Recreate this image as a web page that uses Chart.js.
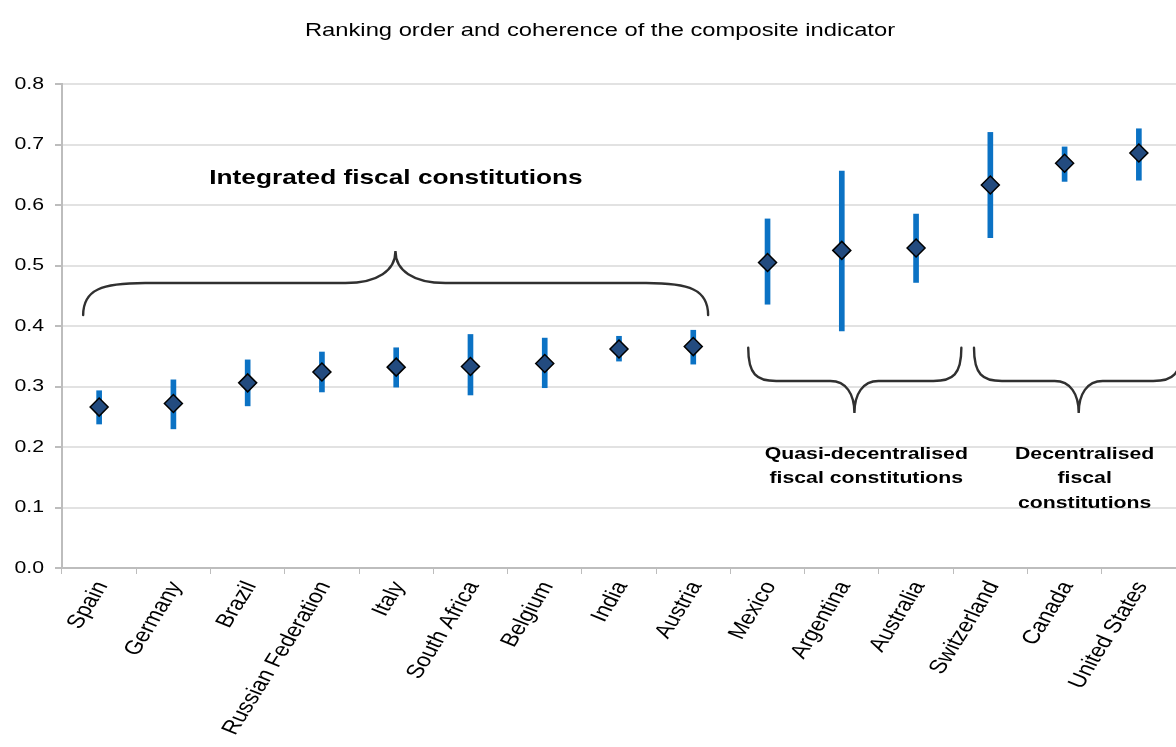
<!DOCTYPE html>
<html>
<head>
<meta charset="utf-8">
<script src="https://cdn.jsdelivr.net/npm/chart.js@4/dist/chart.umd.min.js"></script>
<style>
  html, body { margin: 0; padding: 0; background: #fff; }
  canvas { display: block; }
</style>
</head>
<body>
<canvas id="rankChart" width="1176" height="747"></canvas>
<script>
// data
const countries = ['Spain', 'Germany', 'Brazil', 'Russian Federation', 'Italy', 'South Africa',
    'Belgium', 'India', 'Austria', 'Mexico', 'Argentina', 'Australia', 'Switzerland', 'Canada', 'United States'];
const scores = [0.266, 0.272, 0.306, 0.324, 0.332, 0.333, 0.338, 0.362, 0.366, 0.505, 0.525, 0.529, 0.633, 0.669, 0.686];
const lowBounds = [0.238, 0.230, 0.268, 0.291, 0.299, 0.286, 0.298, 0.342, 0.337, 0.436, 0.392, 0.472, 0.546, 0.639, 0.641];
const highBounds = [0.293, 0.311, 0.344, 0.357, 0.364, 0.386, 0.380, 0.383, 0.393, 0.577, 0.656, 0.585, 0.720, 0.696, 0.726];
const yTicks = [0, 0.1, 0.2, 0.3, 0.4, 0.5, 0.6, 0.7, 0.8];

const chartTitle = 'Ranking order and coherence of the composite indicator';

// group annotations (x in category units, y in value units)
const braces = [
    { x1: -0.215, x2: 8.20, xt: 3.99, yEnd: 0.418, yMid: 0.471, yTip: 0.524, rEnd: 62, rTip: 50 },
    { x1: 8.74, x2: 11.61, xt: 10.17, yEnd: 0.364, yMid: 0.309, yTip: 0.256, rEnd: 28, rTip: 24 },
    { x1: 11.78, x2: 14.57, xt: 13.19, yEnd: 0.364, yMid: 0.309, yTip: 0.256, rEnd: 28, rTip: 24 }
];
const groupLabels = [
    { x: 3.997, y: [0.645], lines: ['Integrated fiscal constitutions'], size: 21 },
    { x: 10.33, y: [0.188, 0.149], lines: ['Quasi-decentralised', 'fiscal constitutions'], size: 17 },
    { x: 13.27, y: [0.188, 0.149, 0.107], lines: ['Decentralised', 'fiscal', 'constitutions'], size: 17 }
];

const FONT = '"Liberation Sans", Arial, sans-serif';
const STRETCH = 1.25;   // the original text is drawn a bit wide
const LABEL_ANGLE = -63 * Math.PI / 180;

// text helper: draws text widened horizontally, optionally rotated
function wideText(ctx, text, x, y, font, align, baseline, angle) {
    ctx.save();
    ctx.translate(x, y);
    ctx.scale(STRETCH, 1);
    if (angle) ctx.rotate(angle);
    ctx.font = font;
    ctx.textAlign = align;
    ctx.textBaseline = baseline;
    ctx.fillText(text, 0, 0);
    ctx.restore();
}

function drawBrace(ctx, xs, ys, b) {
    const x1 = xs.getPixelForValue(b.x1);
    const x2 = xs.getPixelForValue(b.x2);
    const xt = xs.getPixelForValue(b.xt);
    const yE = ys.getPixelForValue(b.yEnd);
    const yM = ys.getPixelForValue(b.yMid);
    const yT = ys.getPixelForValue(b.yTip);

    ctx.beginPath();
    ctx.moveTo(x1, yE);
    ctx.bezierCurveTo(x1, yM + (yE - yM) * 0.2, x1 + b.rEnd * 0.3, yM, x1 + b.rEnd, yM);
    ctx.lineTo(xt - b.rTip, yM);
    ctx.bezierCurveTo(xt - b.rTip * 0.35, yM, xt, yM + (yT - yM) * 0.4, xt, yT);
    ctx.bezierCurveTo(xt, yM + (yT - yM) * 0.4, xt + b.rTip * 0.35, yM, xt + b.rTip, yM);
    ctx.lineTo(x2 - b.rEnd, yM);
    ctx.bezierCurveTo(x2 - b.rEnd * 0.3, yM, x2, yM + (yE - yM) * 0.2, x2, yE);
    ctx.stroke();
}

// axis labels + title, drawn by hand so they can be widened like the original
const textPlugin = {
    id: 'wideLabels',
    afterDraw(chart) {
        const ctx = chart.ctx;
        const xs = chart.scales.x;
        const ys = chart.scales.y;
        ctx.save();
        ctx.fillStyle = '#000';

        wideText(ctx, chartTitle, 600, 36, `19px ${FONT}`, 'center', 'alphabetic');

        yTicks.forEach(v => {
            wideText(ctx, v.toFixed(1), xs.left - 18, ys.getPixelForValue(v), `17px ${FONT}`, 'right', 'middle');
        });

        countries.forEach((name, i) => {
            wideText(ctx, name, xs.getPixelForValue(i) + 3, ys.bottom + 15, `19.5px ${FONT}`,
                'right', 'middle', LABEL_ANGLE);
        });
        ctx.restore();
    }
};

const annotationPlugin = {
    id: 'groupAnnotations',
    afterDatasetsDraw(chart) {
        const ctx = chart.ctx;
        const xs = chart.scales.x;
        const ys = chart.scales.y;
        ctx.save();
        ctx.strokeStyle = '#303030';
        ctx.lineWidth = 2.4;
        ctx.lineCap = 'round';
        braces.forEach(b => drawBrace(ctx, xs, ys, b));

        ctx.fillStyle = '#000';
        groupLabels.forEach(g => {
            g.lines.forEach((line, i) => {
                wideText(ctx, line, xs.getPixelForValue(g.x), ys.getPixelForValue(g.y[i]),
                    `bold ${g.size}px ${FONT}`, 'center', 'middle');
            });
        });
        ctx.restore();
    }
};

const ctx = document.getElementById('rankChart').getContext('2d');

new Chart(ctx, {
    data: {
        labels: countries,
        datasets: [
            {
                type: 'line',
                label: 'Composite indicator',
                data: scores,
                showLine: false,
                clip: false,
                pointStyle: 'rectRot',
                pointRadius: 9,
                pointBackgroundColor: '#234B7F',
                pointBorderColor: '#000',
                pointBorderWidth: 1.5,
                order: 0
            },
            {
                type: 'bar',
                label: 'Range',
                data: lowBounds.map((lo, i) => [lo, highBounds[i]]),
                backgroundColor: '#0B72C4',
                borderWidth: 0,
                barThickness: 5,
                order: 1
            }
        ]
    },
    options: {
        responsive: false,
        devicePixelRatio: 1,
        animation: false,
        layout: { autoPadding: false, padding: { left: 8, right: 0, top: 84, bottom: 0 } },
        plugins: {
            legend: { display: false },
            tooltip: { enabled: false },
            title: { display: false }
        },
        scales: {
            x: {
                offset: true,
                grid: {
                    offset: true,
                    drawOnChartArea: false,
                    drawTicks: true,
                    tickLength: 6,
                    color: '#BDBDBD'
                },
                border: { color: '#BDBDBD', width: 2 },
                ticks: { display: false },
                afterFit(scale) {
                    scale.height = 179;
                    scale.paddingLeft = 0;
                    scale.paddingRight = 0;
                }
            },
            y: {
                min: 0,
                max: 0.8,
                afterBuildTicks(scale) { scale.ticks = yTicks.map(v => ({ value: v })); },
                grid: {
                    color: '#E2E2E2',
                    lineWidth: 2,
                    drawTicks: true,
                    tickLength: 7,
                    tickColor: '#BDBDBD'
                },
                border: { color: '#BDBDBD', width: 2 },
                ticks: { display: false },
                afterFit(scale) {
                    scale.width = 54;
                    scale.paddingTop = 0;
                    scale.paddingBottom = 0;
                }
            }
        }
    },
    plugins: [annotationPlugin, textPlugin]
});
</script>
</body>
</html>
